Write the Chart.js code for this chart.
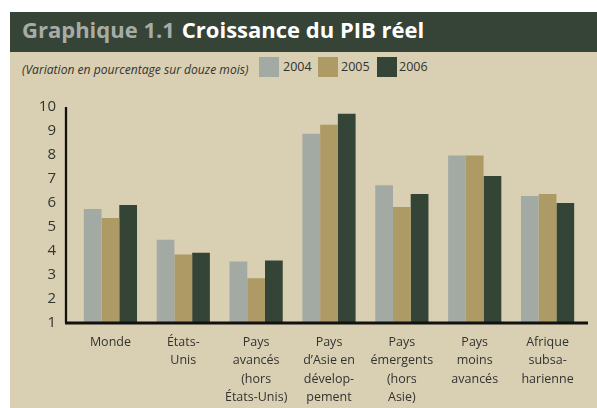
<!DOCTYPE html>
<html>
<head>
<meta charset="utf-8">
<script src="https://cdn.jsdelivr.net/npm/chart.js@4"></script>
<style>
  body { margin: 0; background: #fff; width: 597px; height: 408px; overflow: hidden; position: relative; }
  #panel { position: absolute; left: 10px; top: 12px; width: 587px; height: 396px; background: #d9cfb2; }
  #titleBar { position: absolute; left: 0; top: 0; width: 587px; height: 40px; background: #354436;
    font-family: "Open Sans", sans-serif; font-weight: bold; font-size: 22px; line-height: 35px; color: #fff; white-space: nowrap; }
  #titleBar span { color: #a7aca6; margin-left: 12px; margin-right: 7px; }
  #note { position: absolute; left: 12px; top: 49px; font-family: "Open Sans", sans-serif; font-style: italic;
    font-size: 12.1px; color: #333; white-space: nowrap; }
  .sw { position: absolute; top: 45px; width: 20px; height: 20px; }
  .lg { position: absolute; top: 46px; font-family: "Open Sans", sans-serif; font-size: 12.5px; color: #333; }
  #wrap { position: absolute; left: 10px; top: 80px; width: 587px; height: 328px; }
</style>
</head>
<body>
<div id="panel">
  <div id="titleBar"><span>Graphique 1.1</span>Croissance du PIB réel</div>
  <div id="note">(Variation en pourcentage sur douze mois)</div>
  <div class="sw" style="left:249px;background:#a3aaa3"></div><div class="lg" style="left:273px">2004</div>
  <div class="sw" style="left:308px;background:#ad9a65"></div><div class="lg" style="left:331px">2005</div>
  <div class="sw" style="left:367px;background:#344436"></div><div class="lg" style="left:389px">2006</div>
</div>
<div id="wrap"><canvas id="gdp"></canvas></div>
<script>
//data
const categories = [
  "Monde",
  ["États-", "Unis"],
  ["Pays", "avancés", "(hors", "États-Unis)"],
  ["Pays", "d’Asie en", "dévelop-", "pement"],
  ["Pays", "émergents", "(hors", "Asie)"],
  ["Pays", "moins", "avancés"],
  ["Afrique", "subsa-", "harienne"],
];
const years = ["2004", "2005", "2006"];
const g2004 = [5.75, 4.47, 3.56, 8.89, 6.74, 7.98, 6.29];
const g2005 = [5.38, 3.85, 2.86, 9.26, 5.83, 7.98, 6.37];
const g2006 = [5.92, 3.93, 3.6, 9.72, 6.37, 7.12, 6.0];
const yTicks = [1, 2, 3, 4, 5, 6, 7, 8, 9, 10];
const colors = ["#a3aaa3", "#ad9a65", "#344436"];

//axis lines, y axis sits a bit left of the first bar group
const axisLines = {
  id: "axisLines",
  afterDatasetsDraw(chart) {
    const a = chart.chartArea;
    const ctx = chart.ctx;
    ctx.save();
    ctx.strokeStyle = "#111";
    ctx.lineWidth = 2.3;
    ctx.beginPath();
    ctx.moveTo(a.left - 8, a.top);
    ctx.lineTo(a.left - 8, a.bottom);
    ctx.stroke();
    ctx.lineWidth = 3;
    ctx.beginPath();
    ctx.moveTo(a.left - 9, a.bottom);
    ctx.lineTo(a.right + 4, a.bottom);
    ctx.stroke();
    ctx.restore();
  },
};

const data = {
  labels: categories,
  datasets: [g2004, g2005, g2006].map((vals, i) => ({
    label: years[i],
    data: vals,
    backgroundColor: colors[i],
    borderWidth: 0,
    categoryPercentage: 0.73,
    barPercentage: 1,
  })),
};

const config = {
  type: "bar",
  data: data,
  plugins: [axisLines],
  options: {
    responsive: false,
    animation: false,
    layout: { padding: { left: 19, right: 13, top: 5, bottom: 0 } },
    plugins: { legend: { display: false }, tooltip: { enabled: false } },
    scales: {
      x: {
        grid: { display: false, drawTicks: false },
        border: { display: false },
        ticks: {
          color: "#333",
          padding: 10,
          maxRotation: 0,
          autoSkip: false,
          font: { family: "Open Sans", size: 12.5, lineHeight: 1.47 },
        },
        afterFit: (s) => { s.height = 85; },
      },
      y: {
        min: 1,
        max: 10,
        grid: { display: false, drawTicks: false },
        border: { display: false },
        afterBuildTicks: (s) => { s.ticks = yTicks.map((v) => ({ value: v })); },
        ticks: {
          color: "#333",
          padding: 18,
          font: { family: "Open Sans", size: 15 },
        },
        afterFit: (s) => { s.width = 45; },
      },
    },
  },
};

const cv = document.getElementById("gdp");
cv.width = 587;
cv.height = 328;
new Chart(cv, config);
</script>
</body>
</html>
